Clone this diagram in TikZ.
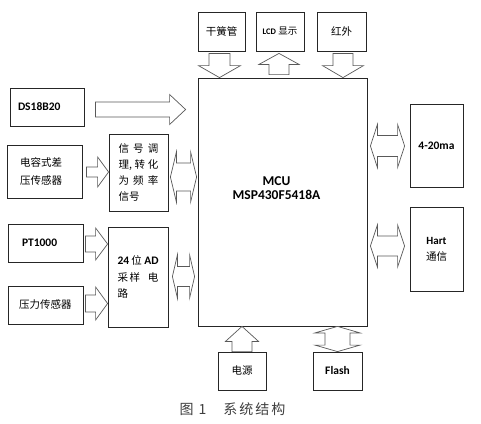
\documentclass[tikz,border=0pt]{standalone}
\usepackage{fontspec}
\setmainfont{Noto Sans CJK SC}
\newfontfamily\lat{Carlito}
\usetikzlibrary{calc,positioning}

\newcommand{\en}[1]{{\lat\bfseries #1}}
\newcommand{\zh}{\fontsize{10.5}{17}\selectfont}

% hollow block arrows: tail/tip, shaft half width, head half width, head length
\newcommand{\harrow}[5]{\draw[blk] ($#1+(0,#3)$) -- ($#2+(-#5,#3)$) -- ($#2+(-#5,#4)$) -- #2 -- ($#2+(-#5,-#4)$) -- ($#2+(-#5,-#3)$) -- ($#1+(0,-#3)$) -- cycle;}
\newcommand{\varrow}[5]{\draw[blk] ($#1+(#3,0)$) -- ($#2+(#3,-#5)$) -- ($#2+(#4,-#5)$) -- #2 -- ($#2+(-#4,-#5)$) -- ($#2+(-#3,-#5)$) -- ($#1+(-#3,0)$) -- cycle;}
\newcommand{\hdarrow}[5]{\draw[blk] #1 -- ($#1+(#5,-#4)$) -- ($#1+(#5,-#3)$) -- ($#2+(-#5,-#3)$) -- ($#2+(-#5,-#4)$) -- #2 -- ($#2+(-#5,#4)$) -- ($#2+(-#5,#3)$) -- ($#1+(#5,#3)$) -- ($#1+(#5,#4)$) -- cycle;}
\newcommand{\vdarrow}[5]{\draw[blk] #1 -- ($#1+(#4,#5)$) -- ($#1+(#3,#5)$) -- ($#2+(#3,-#5)$) -- ($#2+(#4,-#5)$) -- #2 -- ($#2+(-#4,-#5)$) -- ($#2+(-#3,-#5)$) -- ($#1+(-#3,#5)$) -- ($#1+(-#4,#5)$) -- cycle;}

\tikzset{
  box/.style={draw=black!85, line width=0.8pt, rectangle, inner ysep=0pt, font=\zh},
  blk/.style={draw=black!65, line width=0.7pt, fill=white, line join=miter},
  entext/.style={font=\fontsize{11.5}{14}\selectfont},
}

\begin{document}
\begin{tikzpicture}[x=1pt,y=-1pt]
  \fill[white] (0,0) rectangle (481,423);
  \useasboundingbox (0,0) rectangle (481,423);

  % top row
  \node[box, minimum width=47, minimum height=39] (reed) at (221.5,31.5) {干簧管};
  \node[box, minimum width=48, minimum height=39] (lcd) at (280,31.5) {\en{\fontsize{8.5}{10}\selectfont LCD} {\fontsize{9.5}{10}\selectfont 显示}};
  \node[box, minimum width=49, minimum height=39] (ir) at (341.5,31.5) {红外};

  % controller
  \node[box, minimum width=169, minimum height=248] (mcu) at (282.5,202) {};
  \node[align=center, font=\fontsize{13.5}{14.5}\selectfont] (mcutxt) at ($(mcu.center)+(-6,-14)$) {\en{MCU}\\\en{MSP430F5418A}};

  % left column
  \node[box, entext, text width=58, inner xsep=8, minimum height=38, align=left] (ds) at (47,107) {\en{DS18B20}};
  \node[box, text width=49, inner xsep=13, minimum height=53, align=left, font=\fontsize{10.5}{18}\selectfont] (cap) at (44.5,171.5) {电容式差\\压传感器};
  \node[box, text width=40, inner xsep=9.5, minimum height=77, align=left, font=\fontsize{10.5}{16}\selectfont] (cond) at (138.5,172.5)
    {\makebox[40pt]{信\hfill 号\hfill 调}\\\makebox[40pt]{理,\hfill 转\hfill 化}\\\makebox[40pt]{为\hfill 频\hfill 率}\\信号};
  \node[box, entext, text width=47, inner xsep=14, minimum height=38, align=left] (pt) at (45.5,243) {\en{PT1000}};
  \node[box, text width=53, inner xsep=11, minimum height=38, align=left] (press) at (45.5,305) {压力传感器};
  \node[box, text width=41, inner xsep=9.5, minimum height=100, align=left, font=\fontsize{10.5}{16.5}\selectfont] (ad) at (138,277)
    {\makebox[41pt]{\en{\fontsize{11.5}{16.5}\selectfont 24}\hfill 位\hfill \en{\fontsize{11.5}{16.5}\selectfont AD}}\\\makebox[41pt]{采\,样\hfill 电}\\路};

  % right column
  \node[box, entext, minimum width=53, minimum height=83] (m420) at (436.5,145.5) {\en{4-20ma}};
  \node[box, minimum width=53, minimum height=84, align=center, font=\fontsize{10.5}{16}\selectfont] (hart) at (436.5,249) {\en{\fontsize{11}{16}\selectfont Hart}\\通信};

  % bottom row
  \node[box, minimum width=48, minimum height=38] (power) at (242,371) {电源};
  \node[box, entext, minimum width=49, minimum height=38] (flash) at (337.5,371) {\en{Flash}};

  \node[font=\fontsize{14}{16}\selectfont, text=black!75] (title) at (232.5,409) {图\hspace{5pt}1\hspace{17pt}系\hspace{2pt}统\hspace{2pt}结\hspace{2pt}构};

  % block arrows
  \coordinate (a1s) at ($(reed.south)+(-2,2)$);
  \coordinate (a1e) at (a1s |- mcu.north);
  \varrow{(a1s)}{(a1e)}{10.5}{21}{12}
  \coordinate (a2e) at ($(lcd.south)+(-1,2)$);
  \coordinate (a2s) at ($(a2e |- mcu.north)+(0,-3)$);
  \varrow{(a2s)}{(a2e)}{10}{20}{-11}
  \coordinate (a3s) at ($(ir.south)+(1.5,2)$);
  \coordinate (a3e) at (a3s |- mcu.north);
  \varrow{(a3s)}{(a3e)}{10}{20.5}{12}

  \coordinate (a4s) at ($(ds.east)+(11,2.5)$);
  \coordinate (a4e) at ($(a4s -| mcu.west)+(-12,0)$);
  \harrow{(a4s)}{(a4e)}{7.5}{15}{16}
  \coordinate (a5s) at ($(cap.east)+(4,0.5)$);
  \coordinate (a5e) at (a5s -| cond.west);
  \harrow{(a5s)}{(a5e)}{5}{15}{11}
  \coordinate (a6l) at ($(cond.east)+(2,4.5)$);
  \coordinate (a6r) at ($(a6l -| mcu.west)+(-1,0)$);
  \hdarrow{(a6l)}{(a6r)}{14}{25}{6}
  \coordinate (a7s) at ($(pt.east)+(2,1)$);
  \coordinate (a7e) at (a7s -| ad.west);
  \harrow{(a7s)}{(a7e)}{8}{16}{12}
  \coordinate (a8s) at ($(press.east)+(2,-1.5)$);
  \coordinate (a8e) at (a8s -| ad.west);
  \harrow{(a8s)}{(a8e)}{8.5}{16.5}{12}
  \coordinate (a9l) at ($(ad.east)+(4,-0.5)$);
  \coordinate (a9r) at ($(a9l -| mcu.west)+(-3,0)$);
  \hdarrow{(a9l)}{(a9r)}{10}{21.5}{5}

  \coordinate (a10l) at ($(mcu.east |- m420.west)+(3,0.5)$);
  \coordinate (a10r) at ($(a10l -| m420.west)+(-5,0)$);
  \hdarrow{(a10l)}{(a10r)}{10.5}{21.5}{7}
  \coordinate (a11l) at ($(mcu.east |- hart.west)+(3,-3)$);
  \coordinate (a11r) at ($(a11l -| hart.west)+(-5,0)$);
  \hdarrow{(a11l)}{(a11r)}{10}{21}{7}

  \coordinate (a12e) at (power.north |- mcu.south);
  \varrow{(power.north)}{(a12e)}{10}{16.5}{-15}
  \coordinate (a13t) at (flash.north |- mcu.south);
  \vdarrow{(a13t)}{(flash.north)}{12.5}{22.5}{6.5}
\end{tikzpicture}
\end{document}
